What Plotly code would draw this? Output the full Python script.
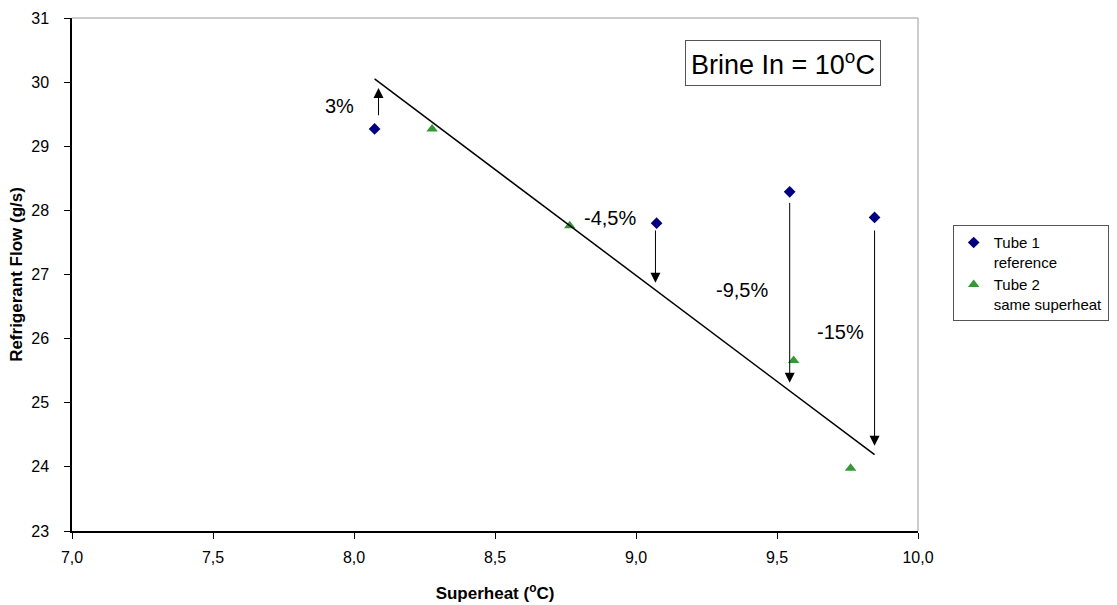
import plotly.graph_objects as go

# ---- data ----
tube1_x = [8.073, 9.073, 9.545, 9.846]
tube1_y = [29.27, 27.80, 28.29, 27.89]
tube2_x = [8.277, 8.765, 9.559, 9.761]
tube2_y = [29.27, 27.76, 25.66, 23.98]
trend_x = [8.073, 9.846]
trend_y = [30.05, 24.19]

arrow_x = [8.087, 9.069, 9.545, 9.846]
arrow_y_from = [29.46, 27.71, 28.14, 27.71]
arrow_y_to = [29.91, 26.87, 25.31, 24.33]

label_text = ["3%", "-4,5%", "-9,5%", "-15%"]
label_x = [7.950, 8.907, 9.377, 9.726]
label_y = [29.63, 27.88, 26.76, 26.10]

x_ticks = [7.0, 7.5, 8.0, 8.5, 9.0, 9.5, 10.0]
x_tick_text = ["7,0", "7,5", "8,0", "8,5", "9,0", "9,5", "10,0"]
y_ticks = [23, 24, 25, 26, 27, 28, 29, 30, 31]

FONT = "Arial, Liberation Sans, sans-serif"

fig = go.Figure()
fig.add_trace(go.Scatter(
    x=tube1_x, y=tube1_y, mode="markers", name="Tube 1<br>reference",
    marker=dict(symbol="diamond", size=9, color="#000080"),
))
fig.add_trace(go.Scatter(
    x=tube2_x, y=tube2_y, mode="markers", name="Tube 2<br>same superheat",
    marker=dict(symbol="triangle-up", size=10, color="#339933"),
))
fig.add_trace(go.Scatter(
    x=trend_x, y=trend_y, mode="lines", showlegend=False,
    line=dict(color="black", width=1.5), hoverinfo="skip",
))

annotations = []
for ax_, y0, y1 in zip(arrow_x, arrow_y_from, arrow_y_to):
    annotations.append(dict(
        x=ax_, y=y1, ax=ax_, ay=y0, xref="x", yref="y", axref="x", ayref="y",
        text="", showarrow=True, arrowhead=2, arrowsize=2, arrowwidth=1,
        arrowcolor="black",
    ))
for t, lx, ly in zip(label_text, label_x, label_y):
    annotations.append(dict(
        x=lx, y=ly, xref="x", yref="y", text=t, showarrow=False,
        font=dict(family=FONT, size=20, color="black"),
    ))
annotations.append(dict(
    x=0.8407, y=0.912, xref="paper", yref="paper", xanchor="center", yanchor="middle",
    text="Brine In = 10<sup>o</sup>C", showarrow=False,
    font=dict(family=FONT, size=27, color="black"),
    bordercolor="#555555", borderwidth=1, borderpad=5, bgcolor="white",
))

fig.update_layout(
    width=1117, height=605,
    margin=dict(l=72, r=199, t=18, b=74, autoexpand=False),
    paper_bgcolor="white", plot_bgcolor="white",
    font=dict(family=FONT, size=16, color="black"),
    annotations=annotations,
    legend=dict(
        x=1.041, y=0.596, xanchor="left", yanchor="top",
        bordercolor="#555555", borderwidth=1, bgcolor="white",
        font=dict(family=FONT, size=15, color="black"),
        valign="top", tracegroupgap=2, itemwidth=30,
    ),
    shapes=[
        dict(type="line", xref="paper", yref="paper", x0=0, x1=1, y0=1, y1=1,
             line=dict(color="#999999", width=1)),
        dict(type="line", xref="paper", yref="paper", x0=1, x1=1, y0=0, y1=1,
             line=dict(color="#999999", width=1)),
    ],
)
fig.update_xaxes(
    range=[7.0, 10.0], tickvals=x_ticks, ticktext=x_tick_text, automargin=False,
    showgrid=False, zeroline=False, showline=True, linecolor="black", linewidth=1.5,
    ticks="outside", ticklen=6, tickcolor="black", ticklabelstandoff=5,
    tickfont=dict(family=FONT, size=16),
    title=dict(text="<b>Superheat (<sup>o</sup>C)</b>", font=dict(family=FONT, size=17), standoff=22),
)
fig.update_yaxes(
    range=[23, 31], tickvals=y_ticks, automargin=False,
    showgrid=False, zeroline=False, showline=True, linecolor="black", linewidth=1.5,
    ticks="outside", ticklen=6, tickcolor="black", ticklabelstandoff=12,
    tickfont=dict(family=FONT, size=16),
    title=dict(text="<b>Refrigerant Flow (g/s)</b>", font=dict(family=FONT, size=17), standoff=4),
)

fig.write_html("out.html", config={"displayModeBar": False},
               post_script="document.body.style.margin='0';")
